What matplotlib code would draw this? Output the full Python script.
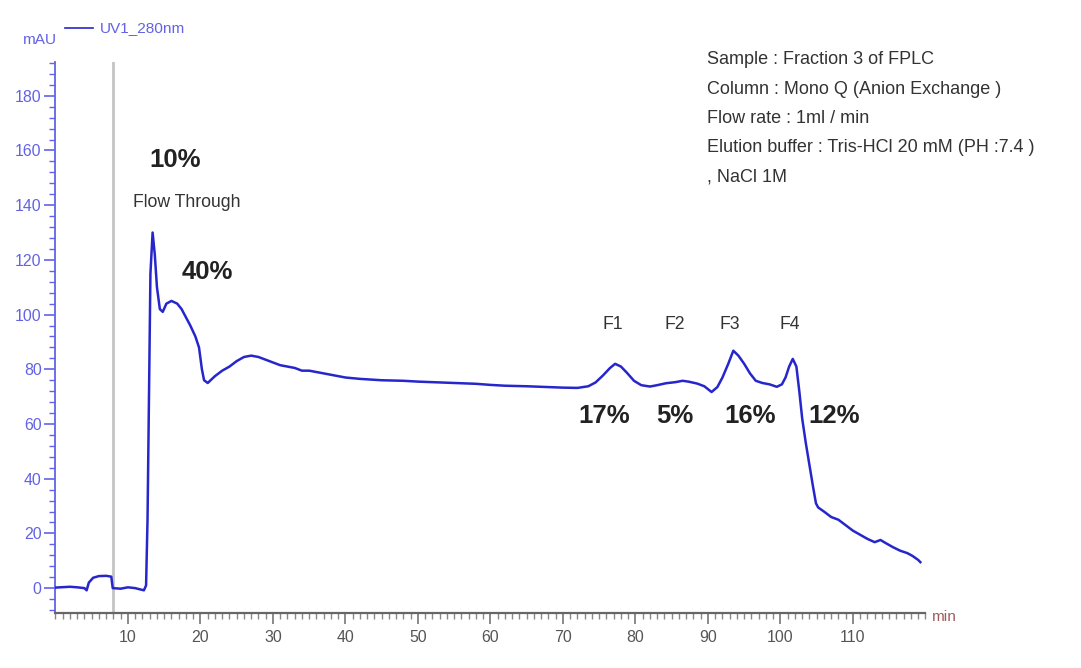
import matplotlib.pyplot as plt
from matplotlib import font_manager
from matplotlib.ticker import MultipleLocator, FixedLocator

# chromatogram trace (min, mAU)
t = [0, 2, 3, 4, 4.3, 4.6, 5.2, 6.0, 7.0, 7.7, 7.9, 9, 10, 11, 12.2, 12.5, 12.7, 12.9,
     13.1, 13.4, 13.7, 14.0, 14.4, 14.8, 15.3, 16.0, 16.8, 17.4, 18.0, 18.6, 19.3, 19.8,
     20.2, 20.5, 21.0, 22, 23, 24, 25, 26, 27, 28, 29, 30, 31, 32, 33, 34, 35, 36, 38,
     40, 42, 45, 48, 50, 52, 55, 58, 60, 62, 65, 68, 70, 72, 73.5, 74.5, 75.5, 76.5,
     77.2, 78, 78.8, 79.8, 80.8, 82, 83, 84.2, 85.5, 86.5, 87.3, 88.5, 89.5, 90.5, 91.3,
     92, 92.8, 93.5, 94.2, 95, 95.8, 96.6, 97.5, 98.5, 99.5, 100.2, 100.7, 101.2, 101.7,
     102.2, 102.6, 103.0, 103.5, 104.0, 104.5, 104.9, 105.2, 106, 107, 108, 109, 110,
     111, 112, 113, 113.8, 114.5, 115.5, 116.5, 117.5, 118.2, 119.0, 119.3]
mau = [0.2, 0.5, 0.3, 0.0, -0.8, 2.0, 3.8, 4.4, 4.5, 4.2, 0.0, -0.2, 0.3, 0.0, -0.8, 1.0,
       25, 70, 115, 130, 122, 110, 102, 101, 104, 105, 104, 102, 99, 96, 92, 88, 80, 76,
       75, 77.5, 79.5, 81, 83, 84.5, 85, 84.5, 83.5, 82.5, 81.5, 81, 80.5, 79.5, 79.5, 79,
       78, 77, 76.5, 76, 75.8, 75.5, 75.3, 75, 74.7, 74.3, 74, 73.8, 73.5, 73.3, 73.2,
       73.8, 75.2, 77.7, 80.5, 82, 81, 78.8, 75.8, 74.2, 73.7, 74.2, 74.9, 75.3, 75.8,
       75.5, 74.8, 73.8, 71.7, 73.5, 77, 82, 86.8, 85, 82, 78.5, 75.8, 75.0, 74.5, 73.6,
       74.5, 77, 81, 83.8, 81, 72, 62, 53, 45, 37, 31, 29.5, 28, 26, 25, 23, 21, 19.5, 18,
       16.8, 17.6, 16.5, 15, 13.7, 12.8, 11.8, 10.3, 9.5]

pct_labels = ["10%", "40%", "17%", "5%", "16%", "12%"]
pct_x = [16.5, 20.9, 75.7, 85.4, 95.8, 107.4]
pct_y = [156.5, 115.5, 62.9, 62.9, 62.9, 62.9]

frac_labels = ["F1", "F2", "F3", "F4"]
frac_x = [76.9, 85.4, 93.0, 101.3]
frac_y = 96.5

info_lines = ["Sample : Fraction 3 of FPLC",
              "Column : Mono Q (Anion Exchange )",
              "Flow rate : 1ml / min",
              "Elution buffer : Tris-HCl 20 mM (PH :7.4 )",
              ", NaCl 1M"]

inject_t = 7.9

names = {f.name for f in font_manager.fontManager.ttflist}
if "Liberation Sans Narrow" in names:
    narrow = "Liberation Sans Narrow"
    k = 1.0
else:
    narrow = "Liberation Sans"
    k = 0.82

blue = "#2626cc"
axblue = "#6262e6"

fig = plt.figure(figsize=(10.81, 6.68), dpi=100)
ax = fig.add_axes([0.0513, 0.0823, 0.8048, 0.8247])

ax.axvline(inject_t, color="#c4c4c4", lw=2, zorder=1)
ax.plot(t, mau, color=blue, lw=1.8, zorder=3)

ax.set_xlim(0, 120)
ax.set_ylim(-9.1, 192.3)

for s in ["top", "right"]:
    ax.spines[s].set_visible(False)
ax.spines["left"].set_color(axblue)
ax.spines["left"].set_linewidth(1.3)
ax.spines["bottom"].set_color("#666666")
ax.spines["bottom"].set_linewidth(1.6)

ax.xaxis.set_major_locator(FixedLocator(range(10, 120, 10)))
ax.xaxis.set_minor_locator(MultipleLocator(1))
ax.yaxis.set_major_locator(FixedLocator(range(0, 200, 20)))
ax.yaxis.set_minor_locator(MultipleLocator(4))

ax.tick_params(axis="x", which="major", length=8, width=1.2, color="#777777",
               labelcolor="#555555", labelsize=14 * k, pad=4)
ax.tick_params(axis="x", which="minor", length=4, width=1, color="#888888")
ax.tick_params(axis="y", which="major", length=8, width=1.2, color=axblue,
               labelcolor=axblue, labelsize=14 * k, pad=2)
ax.tick_params(axis="y", which="minor", length=4, width=1, color=axblue)
for lab in ax.get_xticklabels() + ax.get_yticklabels():
    lab.set_family(narrow)

for lab, x, y in zip(pct_labels, pct_x, pct_y):
    ax.text(x, y, lab, ha="center", va="center", fontsize=18.5, fontweight="bold",
            family="Liberation Sans", color="#222222")
ax.text(18.1, 140.8, "Flow Through", ha="center", va="center", fontsize=15.5 * k,
        family=narrow, color="#333333")
for lab, x in zip(frac_labels, frac_x):
    ax.text(x, frac_y, lab, ha="center", va="center", fontsize=15.5 * k,
            family=narrow, color="#333333")

for i, line in enumerate(info_lines):
    fig.text(0.654, (668 - 60 - 29.3 * i) / 668, line, ha="left", va="center",
             fontsize=15.8 * k, family=narrow, color="#333333")

fig.add_artist(plt.Line2D([0.060, 0.086], [0.958, 0.958], color=blue, lw=1.2))
fig.text(0.092, 0.958, "UV1_280nm", ha="left", va="center", fontsize=13.5 * k,
         family=narrow, color=axblue)
fig.text(0.037, 0.940, "mAU", ha="center", va="center", fontsize=13.5 * k,
         family=narrow, color=axblue)
fig.text(0.874, 0.076, "min", ha="center", va="center", fontsize=13.5 * k,
         family=narrow, color="#a05a5a")

fig.savefig("out.png", dpi=100)
